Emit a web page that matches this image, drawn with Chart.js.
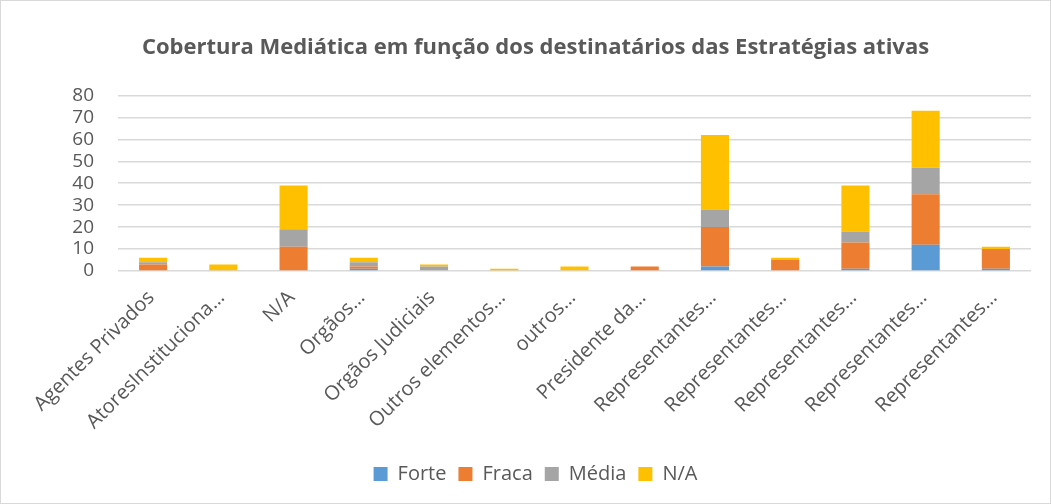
<!DOCTYPE html>
<html>
<head>
<meta charset="utf-8">
<script src="https://cdn.jsdelivr.net/npm/chart.js@4/dist/chart.umd.min.js"></script>
<style>
  html, body { margin: 0; padding: 0; background: #fff; }
  #wrap { position: absolute; left: 0; top: 0; width: 1049px; height: 502px; border: 1px solid #d9d9d9; }
</style>
</head>
<body>
<div id="wrap"><canvas id="chart"></canvas></div>
<script>
const categories = [
  'Agentes Privados', 'AtoresInstituciona…', 'N/A', 'Orgãos…', 'Orgãos Judiciais',
  'Outros elementos…', 'outros…', 'Presidente da…', 'Representantes…', 'Representantes…',
  'Representantes…', 'Representantes…', 'Representantes…'
];
const forte = [0, 0, 0, 1, 0, 0, 0, 0, 2, 0, 1, 12, 1];
const fraca = [3, 0, 11, 1, 0, 0, 0, 2, 18, 5, 12, 23, 9];
const media = [1, 0, 8, 2, 2, 0, 0, 0, 8, 0, 5, 12, 0];
const na = [2, 3, 20, 2, 1, 1, 2, 0, 34, 1, 21, 26, 1];
const yTicks = [0, 10, 20, 30, 40, 50, 60, 70, 80];

const txt = '#595959';
const font = 'Open Sans';

new Chart(document.getElementById('chart'), {
  type: 'bar',
  data: {
    labels: categories,
    datasets: [
      { label: 'Forte', data: forte, backgroundColor: '#5b9bd5' },
      { label: 'Fraca', data: fraca, backgroundColor: '#ed7d31' },
      { label: 'Média', data: media, backgroundColor: '#a5a5a5' },
      { label: 'N/A', data: na, backgroundColor: '#ffc000' }
    ]
  },
  options: {
    responsive: true,
    maintainAspectRatio: false,
    animation: false,
    datasets: { bar: { barPercentage: 0.4, categoryPercentage: 1 } },
    layout: { padding: { left: 39, right: 19, top: 34, bottom: 9 } },
    plugins: {
      title: {
        display: true,
        text: 'Cobertura Mediática em função dos destinatários das Estratégias ativas',
        color: txt,
        font: { family: font, size: 22, weight: 'bold' },
        padding: { top: 0, bottom: 34 }
      },
      legend: {
        position: 'bottom',
        labels: { color: txt, font: { family: font, size: 20 }, boxWidth: 14, boxHeight: 14, padding: 12 }
      },
      tooltip: { enabled: false }
    },
    scales: {
      x: {
        stacked: true,
        grid: { display: false },
        border: { display: false },
        afterFit: axis => { axis.height = 181; axis.paddingLeft = 0; axis.paddingRight = 0; },
        ticks: { color: txt, font: { family: font, size: 20 }, minRotation: 45, maxRotation: 45, autoSkip: false, padding: 7, labelOffset: -2 }
      },
      y: {
        stacked: true,
        min: yTicks[0],
        max: yTicks[yTicks.length - 1],
        afterBuildTicks: axis => { axis.ticks = yTicks.map(v => ({ value: v })); },
        afterFit: axis => { axis.width = 78; },
        grid: { color: '#d9d9d9', lineWidth: 1.5, drawTicks: false },
        border: { display: false },
        ticks: { color: txt, font: { family: font, size: 19 }, padding: 24, autoSkip: false }
      }
    }
  }
});
</script>
</body>
</html>
